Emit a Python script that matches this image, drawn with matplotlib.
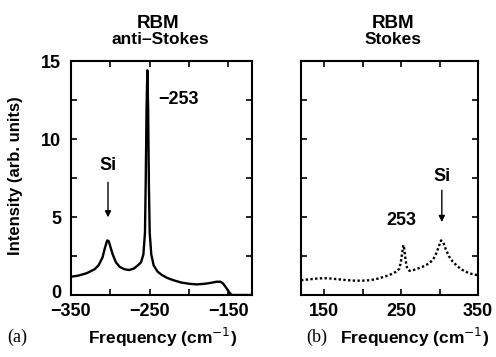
import matplotlib
matplotlib.use("Agg")
import matplotlib.pyplot as plt
import matplotlib.transforms as mtransforms
from matplotlib.ticker import FixedLocator

plt.rcParams['font.family'] = ['Liberation Sans', 'DejaVu Sans']

# anti-Stokes spectrum (panel a)
as_freq = [-350, -340, -330, -320, -315, -310, -307, -304, -302, -300, -297, -293,
           -288, -282, -276, -270, -265, -261, -258, -256, -255, -254, -253, -252,
           -251, -250, -248, -245, -240, -235, -228, -220, -210, -200, -190, -180,
           -172, -165, -160, -157, -154, -150, -147, -145, -120]
as_int = [1.17, 1.25, 1.4, 1.65, 1.9, 2.4, 3.0, 3.5, 3.45, 3.1, 2.6, 2.1,
          1.8, 1.65, 1.6, 1.7, 1.9, 2.1, 2.6, 4.0, 7.5, 12.0, 14.4, 12.0,
          7.0, 4.0, 2.6, 1.9, 1.5, 1.3, 1.1, 0.95, 0.8, 0.72, 0.68, 0.72,
          0.78, 0.85, 0.85, 0.75, 0.55, 0.25, 0.05, 0.0, 0.0]

# Stokes spectrum (panel b)
s_freq = [120, 130, 140, 150, 160, 170, 180, 190, 200, 210, 220, 230, 238, 244,
          248, 250, 252, 253, 254, 256, 258, 261, 266, 272, 280, 287, 292, 296,
          299, 302, 305, 308, 312, 317, 323, 330, 338, 346, 350]
s_int = [0.95, 1.0, 1.05, 1.08, 1.05, 1.0, 0.95, 0.92, 0.92, 0.95, 1.05, 1.2, 1.35, 1.5,
         1.7, 2.2, 2.9, 3.2, 3.0, 2.2, 1.7, 1.55, 1.6, 1.7, 1.85, 2.05, 2.3, 2.7,
         3.1, 3.5, 3.35, 2.95, 2.5, 2.15, 1.85, 1.6, 1.4, 1.3, 1.28]

y_ticks = [0, 5, 10, 15]
y_ticklabels = ["0", "5", "10", "15"]
left_xticks = [-350, -250, -150]
left_ticklabels = ["\u2212350", "\u2212250", "\u2212150"]
right_xticks = [150, 250, 350]
right_ticklabels = ["150", "250", "350"]

fig = plt.figure(figsize=(4.96, 3.57), dpi=100)
axa = fig.add_axes([71/496, 62/357, 181/496, 234/357])
axb = fig.add_axes([301/496, 62/357, 177/496, 234/357])

axa.plot(as_freq, as_int, color='black', lw=1.7)
axb.plot(s_freq, s_int, color='black', lw=1.7, linestyle=(0, (1, 1)))

TF = 13
for ax in (axa, axb):
    ax.set_ylim(0, 15)
    ax.yaxis.set_major_locator(FixedLocator(y_ticks))
    ax.yaxis.set_minor_locator(FixedLocator([2.5, 7.5, 12.5]))
    ax.tick_params(which='both', direction='in', top=True, right=True, width=1.2)
    ax.tick_params(which='major', length=4)
    ax.tick_params(which='minor', length=4)
    ax.tick_params(axis='x', pad=6)
    ax.tick_params(axis='y', pad=7)
    for s in ax.spines.values():
        s.set_linewidth(1.5)

axa.set_xlim(-350, -120)
axa.xaxis.set_major_locator(FixedLocator(left_xticks))
axa.xaxis.set_minor_locator(FixedLocator([-300, -200]))
axa.set_xticklabels(left_ticklabels, fontweight='bold', fontsize=TF)
axa.set_yticklabels(y_ticklabels, fontweight='bold', fontsize=TF)
axa.set_ylabel("Intensity (arb. units)", fontsize=12, fontweight='bold')
axa.yaxis.set_label_coords(-0.265, 0.51)
# nudge the "0" label up slightly like the reference
lab0 = axa.get_yticklabels()[0]
lab0.set_transform(lab0.get_transform() + mtransforms.ScaledTranslation(0, 4/100, fig.dpi_scale_trans))

axb.set_xlim(120, 350)
axb.xaxis.set_major_locator(FixedLocator(right_xticks))
axb.xaxis.set_minor_locator(FixedLocator([200, 300]))
axb.set_xticklabels(right_ticklabels, fontweight='bold', fontsize=TF)
axb.tick_params(labelleft=False)

# titles
fig.text(158/496, 1 - 23/357, "RBM", ha='center', va='center', fontsize=13.5, fontweight='bold')
fig.text(160/496, 1 - 39/357, "anti\u2013Stokes", ha='center', va='center', fontsize=12.5, fontweight='bold')
fig.text(393/496, 1 - 23/357, "RBM", ha='center', va='center', fontsize=13.5, fontweight='bold')
fig.text(393/496, 1 - 39/357, "Stokes", ha='center', va='center', fontsize=12.5, fontweight='bold')

# x labels
fig.text(163/496, 1 - 337/357, "Frequency (cm$^{-1}$)", ha='center', va='center', fontsize=12.5, fontweight='bold')
fig.text(415/496, 1 - 337/357, "Frequency (cm$^{-1}$)", ha='center', va='center', fontsize=12.5, fontweight='bold')
fig.text(17/496, 1 - 337/357, "(a)", ha='center', va='center', fontsize=13, family='Liberation Serif')
fig.text(317/496, 1 - 337/357, "(b)", ha='center', va='center', fontsize=13, family='Liberation Serif')

# annotations
axa.text(-303, 8.3, "Si", ha='center', va='center', fontsize=13, fontweight='bold')
axa.annotate("", xy=(-303, 4.8), xytext=(-303, 7.4),
             arrowprops=dict(arrowstyle='-|>', color='black', lw=1.0, mutation_scale=9))
axa.text(-214, 12.5, "\u2212253", ha='center', va='center', fontsize=13, fontweight='bold')

axb.text(303, 7.6, "Si", ha='center', va='center', fontsize=13, fontweight='bold')
axb.annotate("", xy=(303, 4.5), xytext=(303, 6.9),
             arrowprops=dict(arrowstyle='-|>', color='black', lw=1.0, mutation_scale=9))
axb.text(250, 4.8, "253", ha='center', va='center', fontsize=13, fontweight='bold')

fig.savefig("out.png", dpi=100)
